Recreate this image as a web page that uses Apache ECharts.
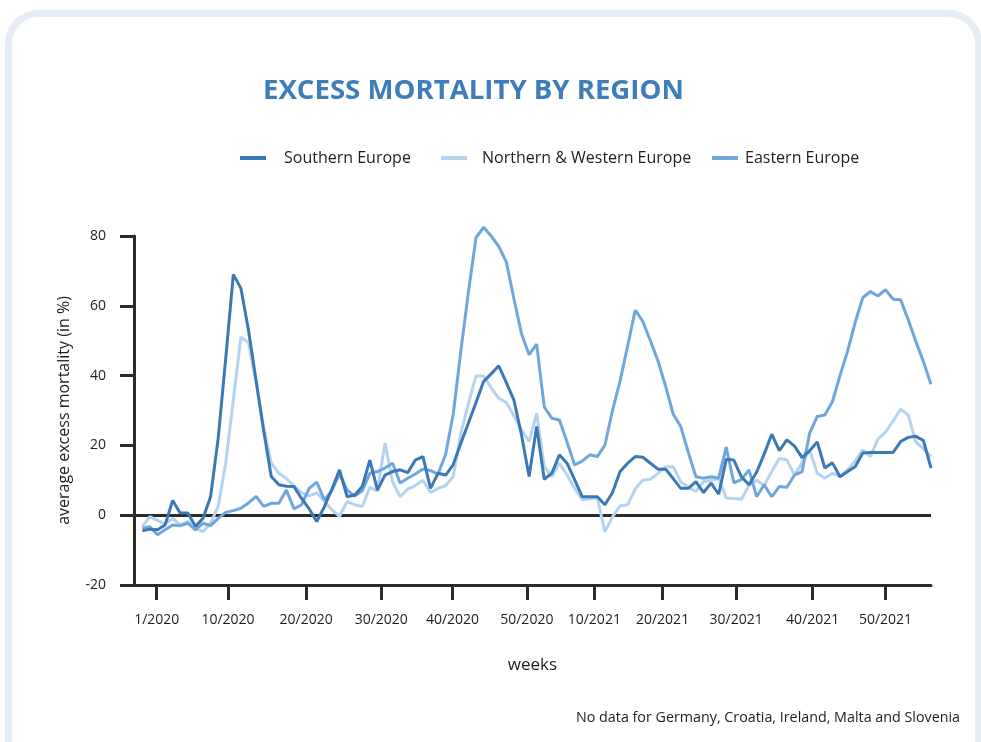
<!DOCTYPE html>
<html>
<head>
<meta charset="utf-8">
<script src="https://cdn.jsdelivr.net/npm/echarts@6/dist/echarts.min.js"></script>
<style>
html,body{margin:0;padding:0;background:#fff;}
#chart{width:981px;height:742px;}
</style>
</head>
<body>
<div id="chart"></div>
<script>
// Weekly points, week 1/2020 ... week 52/2021
const southernEurope = [-4.5,-4.0,-4.2,-2.8,4.2,0.6,0.6,-3.2,-0.9,5.3,22,45,69,65,53,38.6,24.2,11.1,8.7,8.3,8.2,4.8,1.8,-1.8,2.4,7.5,13,5.3,5.8,8.2,15.8,7.2,11.5,12.5,13,12.2,15.8,16.8,7.7,12,11.5,14.5,20.6,26.4,32.3,38.3,40.5,42.8,38,33,23,11.1,25.4,10.3,12,17.3,14.9,10.2,5.3,5.3,5.3,3,6.5,12.5,14.9,16.8,16.6,14.9,13.2,13.2,10.5,7.7,7.7,9.6,6.5,9.2,6,16,15.8,11,8.7,12.3,17.5,23.2,18.5,21.6,19.8,16.5,18.5,21,13.5,15,11,12.5,13.9,17.8,18,18,18,18,21.1,22.3,22.6,21.4,13.5];
const northernWesternEurope = [-3.3,-0.4,-1.5,-2.5,-0.9,-2.8,-1.8,-3.7,-4.7,-2.3,2.5,15,33,51,49.5,38,25,15,12,10.5,8.4,6.5,5.5,6.5,4,1.5,-0.3,3.9,3,2.5,8,7,20.7,9.5,5.3,7.5,8.5,10,6.5,7.7,8.5,11.1,23.5,32,39.9,39.9,36.5,33.5,32.3,28.5,24.5,21.1,29.2,13.9,11.1,14.9,11.5,7.8,4.4,4.7,4.9,-4.7,-0.5,2.7,3,7.5,10.1,10.3,12,13.9,13.9,9.6,8,6.8,9.6,10,10.6,4.9,4.8,4.6,8.5,10,8.5,12.5,16.3,15.8,11.5,15,18.7,12,10.6,12,11.1,13,15.5,18.7,16.8,21.8,23.8,27,30.4,28.7,21,19,16.8];
const easternEurope = [-3.7,-3.3,-5.6,-4.2,-2.8,-3,-2.3,-4.2,-2.3,-3,-0.9,0.8,1.3,2,3.5,5.4,2.5,3.4,3.4,7.2,1.8,3,7.7,9.5,4.4,7,12,7.2,5.5,7,12,12.5,13.5,14.9,9.2,10.6,11.8,13.2,12.8,11.8,17.5,29,47,64,79.5,82.5,80,77,72.5,62,52,46,49,31,27.8,27.3,21,14.4,15.5,17.3,16.8,20.1,30,38.5,48.5,58.8,55.5,50,44.2,37,29,25.4,18,11,10.6,11,10.6,19.5,9.3,10.2,13,5.3,8.7,5.3,8.2,8,11.5,12.5,23.5,28.3,28.7,32.5,40,47,55.2,62.3,64.1,62.8,64.6,61.9,61.7,56,49.8,44,37.5];

const seriesNames = ['Southern Europe', 'Northern & Western Europe', 'Eastern Europe'];
const tickLabels = ['1/2020','10/2020','20/2020','30/2020','40/2020','50/2020','10/2021','20/2021','30/2021','40/2021','50/2021'];
const tickWeekPositions = [1.9, 11.3, 21.6, 31.5, 40.9, 50.7, 59.6, 68.6, 78.3, 88.4, 98.0];

const colors = ['#3b79b5', '#b5d3ef', '#6fa6dc'];
const textColor = '#1e1e1e';
const font = 'Open Sans';

const toPairs = arr => arr.map((v, i) => [i, v]);

function labelFor(val) {
  let best = 0, bd = Infinity;
  tickWeekPositions.forEach((p, k) => { const d = Math.abs(p - val); if (d < bd) { bd = d; best = k; } });
  return tickLabels[best];
}

const chart = echarts.init(document.getElementById('chart'), null, {renderer: 'canvas'});

const legendLefts = [235, 436, 707];
const legendTextPad = [13, 10, 2];

chart.setOption({
  animation: false,
  backgroundColor: '#ffffff',
  textStyle: {fontFamily: font},
  graphic: [
    {
      type: 'rect', z: -10, silent: true,
      shape: {x: 8.5, y: 13.5, width: 970, height: 800, r: 30},
      style: {fill: '#ffffff', stroke: '#e7edf5', lineWidth: 7}
    },
    {
      type: 'text', right: 21, top: 711, silent: true,
      style: {text: 'No data for Germany, Croatia, Ireland, Malta and Slovenia', fill: textColor, font: '14.3px "Open Sans"'}
    }
  ],
  title: {
    text: 'EXCESS MORTALITY BY REGION',
    left: 258, top: 72,
    textStyle: {color: '#3d7dba', fontSize: 27.6, fontWeight: 'bold', fontFamily: font}
  },
  legend: seriesNames.map((name, k) => ({
    data: [name],
    left: legendLefts[k], top: 145,
    icon: 'rect', itemWidth: 26, itemHeight: 4,
    textStyle: {color: textColor, fontSize: 16, fontFamily: font, padding: [0, 0, 0, legendTextPad[k]]},
    selectedMode: false
  })),
  grid: {left: 134, right: 50, top: 236, bottom: 157, containLabel: false},
  xAxis: {
    type: 'value', min: -1.1, max: 104,
    name: 'weeks', nameLocation: 'middle', nameGap: 72,
    nameTextStyle: {color: textColor, fontSize: 17, fontFamily: font},
    axisLine: {show: true, onZero: false, lineStyle: {color: '#2b2b2b', width: 3}},
    axisTick: {show: true, customValues: tickWeekPositions, length: 15, lineStyle: {color: '#2b2b2b', width: 3}},
    axisLabel: {customValues: tickWeekPositions, formatter: v => labelFor(v), color: textColor, fontSize: 14, margin: 28, fontFamily: font},
    splitLine: {show: false}
  },
  yAxis: {
    type: 'value', min: -20, max: 80, interval: 20,
    name: 'average excess mortality (in %)', nameLocation: 'middle', nameGap: 62,
    nameTextStyle: {color: textColor, fontSize: 16, fontFamily: font},
    axisLine: {show: true, onZero: false, lineStyle: {color: '#2b2b2b', width: 3}},
    axisTick: {show: true, length: 14, lineStyle: {color: '#2b2b2b', width: 3}},
    axisLabel: {color: textColor, fontSize: 14, margin: 28, fontFamily: font},
    splitLine: {show: false}
  },
  series: [
    {
      name: seriesNames[0], type: 'line', data: toPairs(southernEurope), clip: false,
      showSymbol: false, symbol: 'none', lineStyle: {width: 3, color: colors[0]}, itemStyle: {color: colors[0]}, z: 4,
      markLine: {
        silent: true, symbol: 'none', label: {show: false}, z: 1,
        lineStyle: {color: '#2b2b2b', width: 3, type: 'solid'},
        data: [{yAxis: 0}]
      }
    },
    {
      name: seriesNames[1], type: 'line', data: toPairs(northernWesternEurope), clip: false,
      showSymbol: false, symbol: 'none', lineStyle: {width: 3, color: colors[1]}, itemStyle: {color: colors[1]}, z: 3
    },
    {
      name: seriesNames[2], type: 'line', data: toPairs(easternEurope), clip: false,
      showSymbol: false, symbol: 'none', lineStyle: {width: 3, color: colors[2]}, itemStyle: {color: colors[2]}, z: 3
    }
  ]
});
</script>
</body>
</html>
